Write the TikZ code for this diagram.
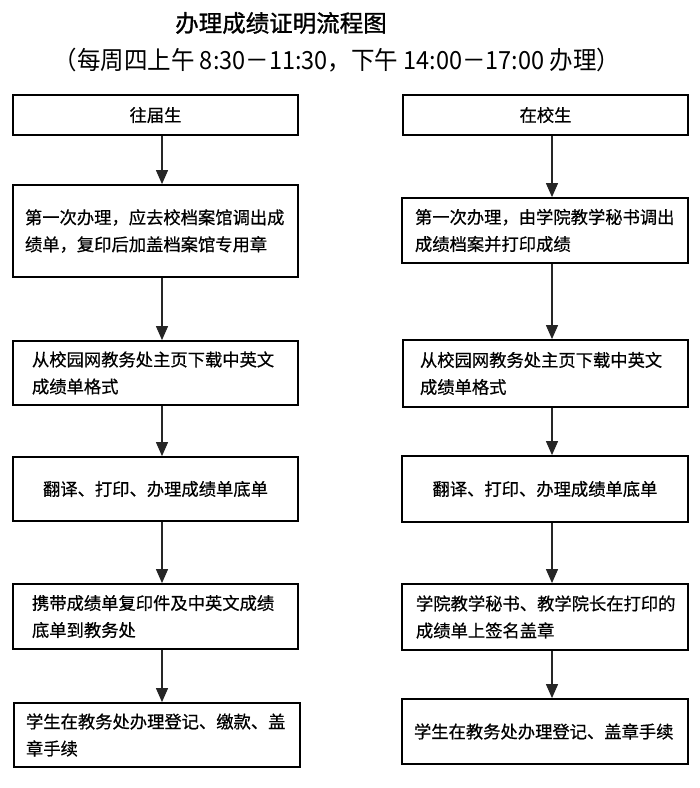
\documentclass[tikz,border=0pt]{standalone}
\usepackage{fontspec}
\setmainfont{Noto Sans CJK SC}[FakeBold=0.6]
\newfontfamily\titlefont{Noto Sans CJK SC}[FakeBold=1.2]
\newfontfamily\subfont{Noto Sans CJK SC}
\usetikzlibrary{arrows.meta}
\tikzset{
  box/.style={draw=black, line width=1.8pt, rectangle, inner ysep=0pt, font=\fontsize{17.3}{27}\selectfont},
  lbox/.style={box, align=left},
  cbox/.style={box, align=center},
  arr/.style={draw=black!85, line width=1.2pt, -{Triangle[width=12pt,length=14pt]}},
}
\begin{document}
\begin{tikzpicture}[x=1pt,y=1pt]
\useasboundingbox[fill=white] (0,0) rectangle (700,-788);
\node (title) at (281,-23) {\titlefont\fontsize{23.5}{23.5}\selectfont 办理成绩证明流程图};
\node (sub) at (337,-60) {\scalebox{0.94}[1]{\subfont\fontsize{25}{25}\selectfont （每周四上午 8:30－11:30，下午 14:00－17:00 办理）}};
\coordinate (aL) at (162,0);
\coordinate (aR) at (552,0);
% left column
\node[cbox, minimum width=285, minimum height=40] (L1) at (155.5,-115) {往届生};
\node[lbox, minimum width=285, minimum height=92, inner xsep=12, text width=261] (L2) at (155.5,-231) {第一次办理，应去校档案馆调出成\\绩单，复印后加盖档案馆专用章};
\node[lbox, minimum width=285, minimum height=64, inner xsep=19, text width=247] (L3) at (155.5,-373) {从校园网教务处主页下载中英文\\成绩单格式};
\node[cbox, minimum width=285, minimum height=64] (L4) at (155.5,-489) {翻译、打印、办理成绩单底单};
\node[lbox, minimum width=285, minimum height=65, inner xsep=19, text width=247] (L5) at (155.5,-616.5) {携带成绩单复印件及中英文成绩\\底单到教务处};
\node[lbox, minimum width=286, minimum height=64, inner xsep=12, text width=262] (L6) at (157,-735) {学生在教务处办理登记、缴款、盖\\章手续};
% right column
\node[cbox, minimum width=285, minimum height=40] (R1) at (545.5,-115) {在校生};
\node[lbox, minimum width=286, minimum height=65, inner xsep=13, text width=260] (R2) at (545,-230.5) {第一次办理，由学院教学秘书调出\\成绩档案并打印成绩};
\node[lbox, minimum width=285, minimum height=67, inner xsep=17, text width=251] (R3) at (545.5,-373.5) {从校园网教务处主页下载中英文\\成绩单格式};
\node[cbox, minimum width=286, minimum height=66] (R4) at (545,-489) {翻译、打印、办理成绩单底单};
\node[lbox, minimum width=286, minimum height=66, inner xsep=14, text width=258] (R5) at (545,-617) {学院教学秘书、教学院长在打印的\\成绩单上签名盖章};
\node[lbox, minimum width=286, minimum height=65, inner xsep=12, text width=262] (R6) at (545,-731.5) {学生在教务处办理登记、盖章手续};
% arrows
\draw[arr] (L1.south -| aL) -- (L2.north -| aL);
\draw[arr] (L2.south -| aL) -- (L3.north -| aL);
\draw[arr] (L3.south -| aL) -- (L4.north -| aL);
\draw[arr] (L4.south -| aL) -- (L5.north -| aL);
\draw[arr] (L5.south -| aL) -- (L6.north -| aL);
\draw[arr] (R1.south -| aR) -- (R2.north -| aR);
\draw[arr] (R2.south -| aR) -- (R3.north -| aR);
\draw[arr] (R3.south -| aR) -- (R4.north -| aR);
\draw[arr] (R4.south -| aR) -- (R5.north -| aR);
\draw[arr] (R5.south -| aR) -- (R6.north -| aR);
\end{tikzpicture}
\end{document}
